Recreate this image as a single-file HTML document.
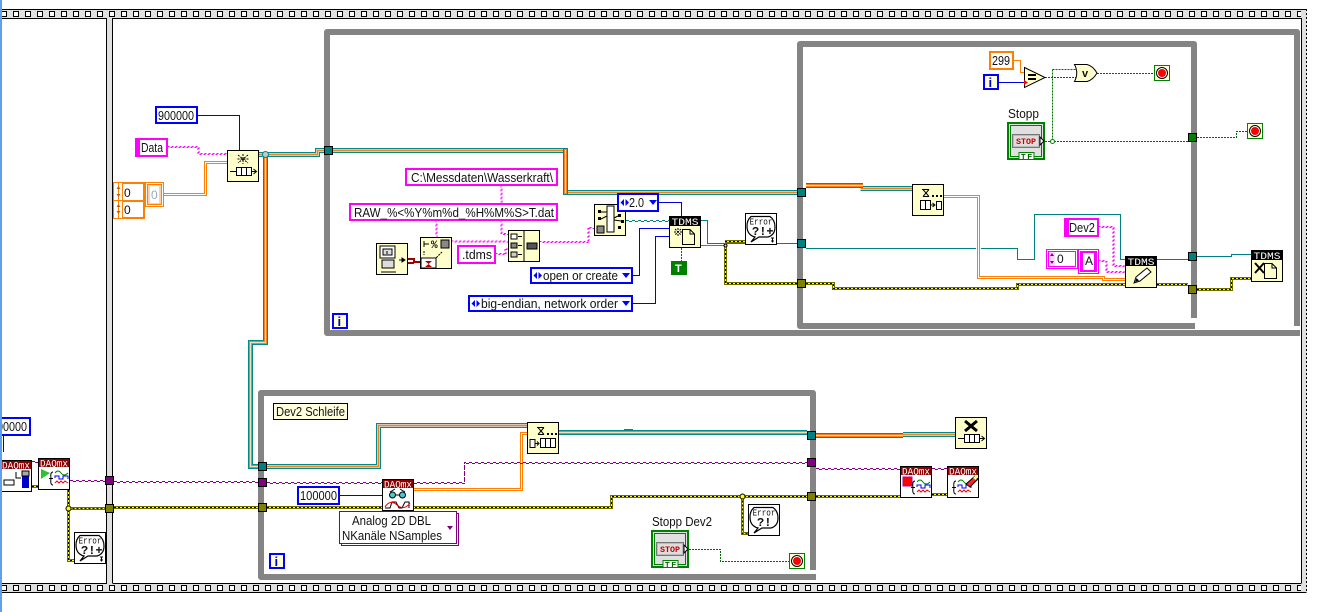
<!DOCTYPE html>
<html lang="de"><head><meta charset="utf-8"><title>LabVIEW Blockdiagramm</title>
<style>
html,body{margin:0;padding:0;background:#fff;width:1336px;height:612px;overflow:hidden}
svg{display:block}
text{font-family:"Liberation Sans",sans-serif;font-size:13px;fill:#111;white-space:pre}
.c{shape-rendering:crispEdges}
.m{font-family:"Liberation Mono",monospace;font-weight:bold}
.d{fill:#fff;font-size:10px;font-family:"Liberation Mono",monospace}
.t{fill:#fff;font-size:10px;font-family:"Liberation Mono",monospace}
.e{font-size:9.5px;font-family:"Liberation Mono",monospace}
</style></head><body>
<svg width="1336" height="612" viewBox="0 0 1336 612" xmlns="http://www.w3.org/2000/svg">
<defs>
<path id="yw" d="M68.500 490V560.500H74M68.500 508.500H105M114 507.500H258M267 507.500H611.500V496.500H807M816 496.500H900M932 494.500H947M742.500 496.500V533.500H748M725.500 245V283.500H797M725 241.500H745M806 283.500H833.500V288.500H1017.500V284.500H1125M1157 284.500H1188M1197 289.500H1231.500V278.500H1251M32 486.500H38"/>
<path id="qb" d="M259 154.500H317.500V150.500H324M333 150.500H565.500M565.500 192.500H797M267 466.500H378.500V425.500H527M903 434.500H955M860.500 188.500H912"/>
<path id="ow" d="M944 196.500H978.500V277.500H1103.500V279.500H1125M414 489.500H521.500V433.500H527M164 194.500H205.500V162.500H227"/>
<path id="pw" d="M20 461.500H38M70 480.500H105M114 481.500H258M267 482.500H464.500V462.500H807M816 468.500H900M932 468.500H947"/>
<path id="sw" d="M168 147H198.500V154H227M501.500 186V203M501.500 221V234H508M436.500 221V237M452 241.500H508M496 254H505.500V249H508M540 242H588.500V228H594M1099 227H1113.500V266H1125M1099 261H1106.500V272H1125"/>
<g id="nb"><rect x=".5" y=".5" width="31" height="31" fill="#ffffcc" stroke="#000" class="c"/></g>
<g id="daq"><rect x=".5" y=".5" width="31" height="31" fill="#fff" stroke="#000" class="c"/><rect x="1" y="1" width="30" height="8" fill="#8b0000" class="c"/><text class="d" x="2" y="8.500" textLength="28" lengthAdjust="spacingAndGlyphs">DAQmx</text></g>
<g id="wave"><path d="M5 20.500H9M9 14Q6 14 7 20.500Q6 27 9 27" fill="none" stroke="#000"/><path d="M11 15Q14 11 17 15T24 15" fill="none" stroke="#080"/><path d="M11 20V18H15V21H19V18H24V21" fill="none" stroke="#00f"/><path d="M11 25L13 23L15 25L17 23L19 25L21 23L24 25" fill="none" stroke="#f00"/></g>
<g id="tdms"><rect x=".5" y=".5" width="31" height="31" fill="#ffffcc" stroke="#000" class="c"/><rect x="1" y="1" width="30" height="9" fill="#000" class="c"/><text class="t" x="2.500" y="9" textLength="27" lengthAdjust="spacingAndGlyphs">TDMS</text></g>
<g id="file"><path d="M13.500 13.500H21L25.500 18V28.500H13.500ZM21 13.500V18H25.500" fill="#ffffcc" stroke="#000"/></g>
<g id="err"><rect x=".5" y=".5" width="31" height="31" fill="#fff" stroke="#000" class="c"/><path d="M6 3.500H25Q30 7 30 14Q30 22 23 24H14L6 29L10 24Q2 22 2 13Q2 7 6 3.500Z" fill="#fff" stroke="#000" stroke-width="1.200"/><text class="e" x="4.500" y="11.500" textLength="23" lengthAdjust="spacingAndGlyphs">Error</text></g>
<g id="qbox"><path d="M3 21.500H9M25 21.500H29M26.500 19L29.500 21.500L26.500 24" fill="none" stroke="#000"/><rect x="9.500" y="17.500" width="15" height="8" fill="#fff" stroke="#000"/><path d="M14.500 17.500V25.500M19.500 17.500V25.500" stroke="#000"/></g>
<g id="dq"><use href="#nb"/><path d="M10 5.500H17M11 12.500H17M11 5.500L14 9L11 12.500M17 5.500L14 9L17 12.500" fill="none" stroke="#000"/><path d="M20 11h2v2h-2zM24 11h2v2h-2zM28 11h2v2h-2z" fill="#000"/></g>
<g id="stopb"><rect x="1" y="1" width="36" height="36" fill="#e0e0e0" stroke="#008000" stroke-width="2" class="c"/><rect x="3.500" y="3.500" width="31" height="31" fill="none" stroke="#008000" class="c"/><rect x="5.500" y="12.500" width="27" height="13" fill="#bbb" stroke="#777" class="c"/><rect x="7" y="14" width="24" height="10" fill="#ddd" class="c"/><text x="9" y="22" style="font-size:8px;font-weight:bold;fill:#c00;font-family:'Liberation Mono',monospace" textLength="20" lengthAdjust="spacingAndGlyphs">STOP</text><path d="M33 15L37 19L33 23Z" fill="#fff" stroke="#000"/><rect x="12" y="30.500" width="15" height="7" fill="#fff" stroke="#008000" class="c"/><text x="14" y="37" style="font-size:7.500px;font-weight:bold;fill:#006400" textLength="11">TF</text></g>
<g id="stopt"><rect x=".5" y=".5" width="15" height="15" fill="#ffffd8" stroke="#008000" class="c"/><circle cx="8" cy="8" r="5.500" fill="#fff" stroke="#000"/><circle cx="8" cy="8" r="4" fill="#f00"/></g>
<g id="ibox"><rect x="1" y="1" width="14" height="14" fill="#ffffd8" stroke="#00f" stroke-width="2" class="c"/><text x="5.500" y="13" style="font-size:13px;font-weight:bold;fill:#00c">i</text></g>
</defs>

<!-- diagram edge filmstrips -->
<g class="c">
<rect x="2" y="9" width="1305" height="9" fill="#e0e0e0"/>
<rect x="2" y="583" width="1305" height="9" fill="#e0e0e0"/>
<path d="M1 14H1301M1 588H1301" stroke="#000" stroke-width="6" stroke-dasharray="6 6" fill="none"/>
<path d="M2 14H1301M2 588H1301" stroke="#fff" stroke-width="4" stroke-dasharray="4 8" fill="none"/>
<path d="M2 9.500H1306.500M2 18.500H107M112 18.500H1301.500M2 583.500H107M112 583.500H1301.500M2 592.500H1306.500" stroke="#000" fill="none"/>
<rect x="107" y="18" width="5.500" height="566" fill="#e0e0e0"/>
<path d="M106.500 18V583M112.500 18V583" stroke="#000"/>
<rect x="1302" y="18" width="5" height="565" fill="#e0e0e0"/>
<path d="M1301.500 18V583" stroke="#000"/>
<path d="M1306.500 9V592" stroke="#000" stroke-dasharray="2 2"/>
</g>

<!-- structure frames -->
<g fill="none" stroke="#848484" stroke-width="6" stroke-linejoin="round">
<path d="M1297 326V32H327V333H1300"/>
<path d="M1194 318V44H800V326H1195"/>
<path d="M813 570V393H261V577H816"/>
</g>

<!-- blue / numeric wires -->
<g class="c" stroke="#0000e0" fill="none">
<path d="M198 115.500H239.500V150"/>
<path d="M340 495.500H382"/>
<path d="M659 202.500H681.500V216"/>
<path d="M633 275.500H639.500V228.500H669"/>
<path d="M633 303.500H655.500V236.500H669"/>
<path d="M999 82.500H1024"/>
<path d="M3.500 436V452"/>
</g>
<path class="c" d="M1014 60.500H1020.500V72.500H1024" stroke="#ff8000" fill="none"/>

<!-- queue wires, teal-dominant sections -->
<g fill="none" class="c">
<use href="#qb" stroke="#008a8a" stroke-width="5"/>
<use href="#qb" stroke="#dcc8b0" stroke-width="3"/>
<use href="#qb" stroke="#f08020" stroke-width="1"/>
</g>
<!-- queue wires, orange-dominant sections -->
<g class="c" fill="#008a8a">
<rect x="263" y="152" width="5" height="193"/>
<rect x="248" y="340" width="20" height="5"/>
<rect x="248" y="340" width="5" height="129"/>
<rect x="248" y="464" width="10" height="5"/>
<rect x="563" y="148" width="5" height="47"/>
<rect x="558" y="430" width="249" height="5"/>
<rect x="624" y="429" width="9" height="5"/>
<rect x="816" y="433" width="87" height="5"/>
<rect x="806" y="183" width="57" height="5"/>
</g>
<g class="c" fill="#f58220">
<rect x="264" y="153" width="3" height="191"/>
<rect x="249" y="341" width="18" height="3"/>
<rect x="249" y="341" width="3" height="127"/>
<rect x="249" y="465" width="9" height="3"/>
<rect x="564" y="149" width="3" height="45"/>
<rect x="558" y="431" width="249" height="3"/>
<rect x="816" y="434" width="87" height="3"/>
<rect x="806" y="184" width="57" height="3"/>
</g>
<g class="c" fill="#ffd9b0">
<rect x="265" y="154" width="1" height="189"/>
<rect x="250" y="342" width="16" height="1"/>
<rect x="250" y="342" width="1" height="125"/>
<rect x="250" y="466" width="8" height="1"/>
<rect x="565" y="150" width="1" height="43"/>
<rect x="558" y="432" width="249" height="1"/>
<rect x="816" y="435" width="87" height="1"/>
<rect x="806" y="185" width="57" height="1"/>
</g>
<!-- orange cluster wires -->
<g fill="none" class="c">
<use href="#ow" stroke="#ff8000" stroke-width="3"/>
<use href="#ow" stroke="#fff" stroke-width="1"/>
</g>

<!-- purple task wires -->
<g class="c" fill="none" stroke="#800080">
<use href="#pw" stroke-dasharray="3 3"/>
<use href="#pw" transform="translate(0 1)" stroke-dasharray="3 3" stroke-dashoffset="3"/>
</g>

<!-- error wires -->
<g fill="none" class="c">
<use href="#yw" stroke="#6f6f00" stroke-width="3"/>
<use href="#yw" stroke="#ffff00" stroke-width="1"/>
<use href="#yw" stroke="#000" stroke-width="1" stroke-dasharray="2 2"/>
</g>
<path class="c" d="M701 245.500H725" stroke="#808000" fill="none"/>
<circle cx="68.500" cy="508.500" r="2.500" fill="#ff0" stroke="#000"/>
<circle cx="742.500" cy="496.500" r="2.500" fill="#ff0" stroke="#000"/>
<circle cx="725.500" cy="245.500" r="1.500" fill="#ff0" stroke="#000"/>

<!-- refnum wires -->
<g class="c" fill="none" stroke="#008080">
<path d="M626 220.500H669" stroke-dasharray="3 3"/>
<path d="M626 221.500H669" stroke-dasharray="3 3" stroke-dashoffset="3"/>
<path d="M701 220.500H707.500V243.500H745"/>
<path d="M777 243.500H797"/>
<path d="M806 248.500H976M981 248.500H1017.500V259.500H1034.500V214.500H1120.500V259.500H1125"/>
<path d="M1157 259.500H1188"/>
<path d="M1197 256.500H1231.500V254.500H1251"/>
</g>

<!-- string wires -->
<g class="c" fill="none" stroke="#ff00ff">
<use href="#sw" stroke-dasharray="2 2" transform="translate(-.5 -.5)"/>
<use href="#sw" stroke-dasharray="2 2" stroke-dashoffset="2" transform="translate(.5 .5)"/>
</g>
<path class="c" d="M408 259H414V262H420M408 263H414" fill="none" stroke="#a00000" stroke-width="2"/>

<!-- boolean wires -->
<g class="c" fill="none" stroke="#006c00" stroke-dasharray="2 1">
<path d="M1045 77.500H1076M1052.500 69.500H1076M1052.500 69.500V141"/>
<path d="M1097 73.500H1154"/>
<path d="M1045 141.500H1188"/>
<path d="M1197 137.500H1236.500V131.500H1247"/>
<path d="M689 549.500H720.500V561.500H789"/>
<path d="M681.500 248V261"/>
</g>
<circle cx="1052.500" cy="141.500" r="2" fill="#fff" stroke="#008000"/>

<!-- tunnels -->
<g class="c" stroke="#000">
<rect x="105.500" y="476.500" width="8" height="8" fill="#800080"/>
<rect x="105.500" y="504.500" width="8" height="8" fill="#808000"/>
<rect x="258.500" y="462.500" width="8" height="8" fill="#008080"/>
<rect x="258.500" y="478.500" width="8" height="8" fill="#800080"/>
<rect x="258.500" y="503.500" width="8" height="8" fill="#808000"/>
<rect x="807.500" y="431.500" width="8" height="8" fill="#008080"/>
<rect x="807.500" y="458.500" width="8" height="8" fill="#800080"/>
<rect x="807.500" y="492.500" width="8" height="8" fill="#808000"/>
<rect x="324.500" y="146.500" width="8" height="8" fill="#008080"/>
<rect x="797.500" y="188.500" width="8" height="8" fill="#008080"/>
<rect x="797.500" y="239.500" width="8" height="8" fill="#008080"/>
<rect x="797.500" y="279.500" width="8" height="8" fill="#808000"/>
<rect x="1188.500" y="252.500" width="8" height="8" fill="#008080"/>
<rect x="1188.500" y="285.500" width="8" height="8" fill="#808000"/>
<rect x="1188.500" y="133.500" width="8" height="8" fill="#008000"/>
</g>
<circle cx="265.500" cy="154.500" r="3" fill="#c8c8c8" stroke="#008a8a"/>

<!-- left DAQmx nodes -->
<g transform="translate(0 460)"><use href="#daq"/><path d="M4 20h10v5H4z" fill="none" stroke="#000"/><rect x="22" y="11" width="7" height="17" fill="#00c"/><rect x="22" y="11" width="7" height="5" fill="#aaa" stroke="#000"/><path d="M16 12V18H21" fill="none" stroke="#000"/></g>
<g transform="translate(38 458)"><use href="#daq"/><path d="M3 11L12 15L3 21Z" fill="#30c030"/><use href="#wave" transform="translate(6 0)"/></g>
<g transform="translate(74 532)"><use href="#err"/><text class="m" x="7" y="22" style="font-size:12px">?!+</text><path d="M26 25h3M26 28h3M27.500 24.500v5" stroke="#000"/></g>

<!-- left constant -->
<g class="c"><rect x="-2" y="418" width="32" height="17" fill="#fff" stroke="#00f" stroke-width="2"/></g>
<text x="-9" y="431" textLength="36" lengthAdjust="spacingAndGlyphs">900000</text>
<rect x="0" y="0" width="2" height="612" fill="#5ea0ee" class="c"/>

<!-- queue setup area -->
<g class="c"><rect x="156" y="107" width="41" height="16" fill="#fff" stroke="#00f" stroke-width="2"/>
<rect x="136" y="139" width="31" height="17" fill="#fff" stroke="#f0f" stroke-width="2"/><rect x="137" y="140" width="3" height="15" fill="#f0f"/></g>
<text x="158" y="120" textLength="36" lengthAdjust="spacingAndGlyphs">900000</text>
<text x="141" y="152" textLength="22" lengthAdjust="spacingAndGlyphs">Data</text>
<g transform="translate(227 150)"><use href="#nb"/><path d="M16 4V14M11 5L21 13M21 5L11 13M10.500 9H21.500" stroke="#000" stroke-dasharray="2 1" fill="none"/><use href="#qbox"/></g>
<g class="c" fill="none" stroke="#ff8000">
<rect x="113.500" y="182.500" width="31" height="36" fill="#fff"/>
<rect x="122.500" y="183.500" width="21" height="17"/>
<rect x="122.500" y="201.500" width="21" height="16"/>
<path d="M114 200.500H144M118.500 183V218"/>
<rect x="145.500" y="182.500" width="18" height="24" fill="#fff"/>
<rect x="147.500" y="184.500" width="14" height="20" fill="#ffd0a8"/>
<rect x="150" y="186" width="9" height="17" fill="#fff" stroke="none"/>
</g>
<path d="M118.500 186l-2 3h4zM118.500 197l-2-3h4zM118.500 204l-2 3h4zM118.500 214l-2-3h4z" fill="#c06000"/>
<text x="124" y="197" style="font-size:12px">0</text>
<text x="124" y="214" style="font-size:12px">0</text>
<text x="151" y="199" style="font-size:12px;fill:#9ab">0</text>

<!-- file path constants -->
<g class="c" fill="#fff" stroke="#f0f" stroke-width="2">
<rect x="406" y="169" width="151" height="16"/>
<rect x="350" y="204" width="207" height="16"/>
<rect x="458" y="246" width="37" height="17"/>
</g>
<text x="411" y="182" textLength="142" lengthAdjust="spacingAndGlyphs">C:\Messdaten\Wasserkraft\</text>
<text x="354" y="217" textLength="200" lengthAdjust="spacingAndGlyphs">RAW_%&lt;%Y%m%d_%H%M%S&gt;T.dat</text>
<text x="462" y="259" textLength="30" lengthAdjust="spacingAndGlyphs">.tdms</text>

<g transform="translate(376 243)"><use href="#nb"/><rect x="4" y="3" width="15" height="12" fill="#fff" stroke="#000"/><path d="M7 6h9v6H7zM11 8V11M6 17h12v8H6z" fill="#ddd" stroke="#000"/><path d="M5 29H20" stroke="#000"/><path d="M23 17h3M26 15l3 2-3 2z" stroke="#000"/></g>
<g transform="translate(420 237)"><use href="#nb"/><text class="m" x="11" y="11" style="font-size:11px">%</text><path d="M4 4v6M4 7h5" stroke="#000"/><rect x="21" y="3" width="8" height="8" fill="#888" stroke="#000"/><path d="M4 14v4M22 15l-6 6" stroke="#000" stroke-dasharray="2 1"/><rect x="1" y="21" width="15" height="10" fill="#fff" stroke="#000"/><path d="M5 24H12L5 30H12Z" fill="#a00"/></g>
<g transform="translate(508 230)"><use href="#nb"/><path d="M16 1V31" stroke="#000"/><rect x="3" y="4" width="6" height="5" fill="#fff" stroke="#000"/><rect x="3" y="13" width="6" height="5" fill="#888" stroke="#000"/><rect x="3" y="22" width="6" height="5" fill="#ccc" stroke="#000"/><path d="M10 6.500h4M10 15.500h4M10 24.500h4" stroke="#000"/><rect x="19" y="13" width="10" height="6" fill="#555" stroke="#000"/></g>
<g transform="translate(594 204)"><use href="#nb"/><rect x="13" y="2" width="7" height="26" fill="#fff" stroke="#000"/><path d="M4 6h3v3H4zM4 13h3v3H4zM24 10h3v3h-3zM27 16h3v3h-3zM24 22h3v3h-3z" fill="#000"/><rect x="3" y="22" width="7" height="7" fill="#888" stroke="#000"/><path d="M7 8L13 8M7 15L13 12M20 14L24 12M20 16L27 17" stroke="#000"/></g>

<!-- enums -->
<g class="c" fill="#fff" stroke="#00f" stroke-width="2">
<rect x="618" y="194" width="40" height="17"/>
<rect x="531" y="268" width="101" height="15"/>
<rect x="469" y="296" width="163" height="15"/>
</g>
<g fill="#00f">
<path d="M624 199L620.500 202.500L624 206ZM625.500 199L629 202.500L625.500 206ZM649 200H657L653 205Z"/>
<path d="M537 272L533.500 275.500L537 279ZM538.500 272L542 275.500L538.500 279ZM622 273H630L626 278Z"/>
<path d="M475 300L471.500 303.500L475 307ZM476.500 300L480 303.500L476.500 307ZM622 301H630L626 306Z"/>
</g>
<text x="629" y="207" textLength="15" lengthAdjust="spacingAndGlyphs">2.0</text>
<text x="543" y="280" textLength="75" lengthAdjust="spacingAndGlyphs">open or create</text>
<text x="481" y="308" textLength="137" lengthAdjust="spacingAndGlyphs">big-endian, network order</text>

<!-- TDMS open, error -->
<g transform="translate(669 216)"><use href="#tdms"/><use href="#file"/><path d="M9 12V20M5 16H13M6 13L12 19M12 13L6 19" stroke="#000" stroke-dasharray="2 1"/></g>
<g class="c"><rect x="672" y="262" width="14" height="12" fill="#fff" stroke="#008000" stroke-width="2"/><rect x="673" y="263" width="12" height="10" fill="#008000"/></g>
<text x="675" y="272" style="font-size:11px;font-weight:bold;fill:#fff">T</text>
<g transform="translate(745 213)"><use href="#err"/><text class="m" x="7" y="22" style="font-size:12px">?!+</text><path d="M26 25h3M26 28h3M27.500 24.500v5" stroke="#000"/></g>

<!-- i terminals -->
<use href="#ibox" x="332" y="313"/>
<use href="#ibox" x="983" y="74"/>
<use href="#ibox" x="269" y="553"/>

<!-- top-right inner loop -->
<g class="c"><rect x="990" y="52" width="23" height="17" fill="#fff" stroke="#ff8000" stroke-width="2"/></g>
<text x="992" y="65" textLength="18" lengthAdjust="spacingAndGlyphs">299</text>
<path d="M1024.500 67.500L1045 77.500L1024.500 87.500Z" fill="#ffffcc" stroke="#000"/>
<path d="M1028 75H1036M1028 79H1036" stroke="#000" stroke-width="2"/>
<path d="M1024 80L1028 82.500L1024 85Z" fill="#f00"/>
<path d="M1074.500 64.500H1087Q1093 66 1097 73Q1093 80 1087 81.500H1074.500Q1079 73 1074.500 64.500Z" fill="#ffffcc" stroke="#000"/>
<text x="1082" y="77" style="font-size:11px;font-weight:bold">v</text>
<use href="#stopt" x="1154" y="65"/>
<use href="#stopt" x="1247" y="123"/>
<text x="1008" y="118" textLength="31" lengthAdjust="spacingAndGlyphs">Stopp</text>
<use href="#stopb" x="1007" y="122"/>

<!-- dequeue in flush -->
<g transform="translate(912 184)"><use href="#dq"/><rect x="8.500" y="16.500" width="10" height="9" fill="#fff" stroke="#000"/><path d="M13.500 16.500V25.500M18 21H22M20.500 19L23 21L20.500 23" fill="none" stroke="#000"/><rect x="24.500" y="17.500" width="5" height="8" fill="#fff" stroke="#000"/></g>

<!-- TDMS write area -->
<g class="c">
<rect x="1065" y="219" width="33" height="17" fill="#fff" stroke="#f0f" stroke-width="2"/>
<rect x="1066" y="220" width="3" height="15" fill="#f0f"/>
<rect x="1046.500" y="249.500" width="31" height="19" fill="#fff" stroke="#f0f"/>
<rect x="1048.500" y="251.500" width="27" height="15" fill="#fff" stroke="#f0f"/>
<rect x="1049" y="252" width="6" height="14" fill="#ffd8ff"/>
<rect x="1078.500" y="249.500" width="20" height="24" fill="#fff" stroke="#f0f"/>
<rect x="1080" y="251" width="17" height="21" fill="#f0f"/>
<rect x="1083" y="253" width="11" height="17" fill="#fff"/>
</g>
<text x="1069" y="232" textLength="26" lengthAdjust="spacingAndGlyphs">Dev2</text>
<text x="1057" y="263" style="font-size:12px">0</text>
<text x="1085" y="265" style="font-size:12px">A</text>
<path d="M1052 253l-2 3h4zM1052 264l-2-3h4z" fill="#800080"/>
<g transform="translate(1125 256)"><use href="#tdms"/><path d="M9 27L11 21L22 12L26 16L15 25Z" fill="#fff" stroke="#000"/><path d="M10 26L11.500 22L14 24.500Z" fill="#000"/></g>
<g transform="translate(1251 250)"><use href="#tdms"/><use href="#file"/><path d="M4 13L13 23M13 13L4 23" stroke="#000" stroke-width="2"/></g>

<!-- Dev2 loop -->
<g class="c"><rect x="273.500" y="403.500" width="74" height="16" fill="#ffffe0" stroke="#000"/></g>
<text x="276" y="416" textLength="69" lengthAdjust="spacingAndGlyphs">Dev2 Schleife</text>
<g class="c"><rect x="298" y="487" width="41" height="17" fill="#fff" stroke="#00f" stroke-width="2"/></g>
<text x="300" y="500" textLength="37" lengthAdjust="spacingAndGlyphs">100000</text>
<g class="c"><rect x="341.500" y="513.500" width="117" height="32" fill="#fff" stroke="#800080"/><rect x="339.500" y="511.500" width="117" height="32" fill="#fff" stroke="#800080"/></g>
<text x="352" y="525" textLength="79" lengthAdjust="spacingAndGlyphs">Analog 2D DBL</text>
<text x="342" y="540" textLength="100" lengthAdjust="spacingAndGlyphs">NKanäle NSamples</text>
<path d="M447 526H453L450 530Z" fill="#800080"/>
<g transform="translate(382 479)"><use href="#daq"/><circle cx="10.500" cy="16" r="3" fill="#4cc" stroke="#000"/><circle cx="20.500" cy="16" r="3" fill="#4cc" stroke="#000"/><path d="M13.500 16H17.500M8 13L13 10M23 13L18 10" stroke="#000"/><path d="M3 29H8L10 23H14L17 29H20L23 23H27V29" fill="none" stroke="#000"/><path d="M3 28Q8 20 15 26T28 24" fill="none" stroke="#e00"/></g>
<g transform="translate(527 422)"><use href="#dq"/><path d="M3 17.500H8V25.500H3ZM8 21.500H11M10 19.500L12 21.500L10 23.500" fill="#fff" stroke="#000"/><rect x="13.500" y="16.500" width="15" height="9" fill="#fff" stroke="#000"/><path d="M18.500 16.500V25.500M23.500 16.500V25.500" stroke="#000"/></g>
<g transform="translate(955 417)"><use href="#nb"/><path d="M10 4L22 14M22 4L10 14" stroke="#000" stroke-width="3"/><use href="#qbox"/></g>

<text x="652" y="526" textLength="60" lengthAdjust="spacingAndGlyphs">Stopp Dev2</text>
<use href="#stopb" x="651" y="530"/>
<use href="#stopt" x="789" y="553"/>
<g transform="translate(748 504)"><use href="#err"/><text class="m" x="9" y="22" style="font-size:12px">?!</text></g>
<g transform="translate(900 466)"><use href="#daq"/><rect x="3" y="11" width="9" height="9" fill="#f00" stroke="#a0a"/><use href="#wave" transform="translate(6 1)"/></g>
<g transform="translate(947 466)"><use href="#daq"/><use href="#wave" transform="translate(0 1)"/><path d="M19 18L28 10L31 13L23 21Z" fill="#f22" stroke="#000"/><path d="M26 12L29 9L31 11L28.500 14Z" fill="#ff8"/></g>
</svg>
</body></html>
